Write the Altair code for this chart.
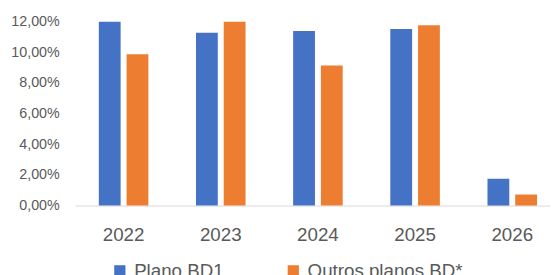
import altair as alt
import pandas as pd

years = ["2022", "2023", "2024", "2025", "2026"]
plano_bd1 = [12.0, 11.28, 11.39, 11.52, 1.75]
outros_bd = [9.88, 12.0, 9.14, 11.77, 0.72]
series_names = ["Plano BD1", "Outros planos BD*"]
colors = ["#4472C4", "#ED7D31"]
y_ticks = [0, 2, 4, 6, 8, 10, 12]

rows = []
for i, yr in enumerate(years):
    rows.append({"ano": yr, "serie": series_names[0], "valor": plano_bd1[i]})
    rows.append({"ano": yr, "serie": series_names[1], "valor": outros_bd[i]})
df = pd.DataFrame(rows)

font = "Liberation Sans"
grey = "#595959"

chart = alt.Chart(df).mark_bar().encode(
    x=alt.X("ano:N", sort=years,
            scale=alt.Scale(range=[0, 493], paddingInner=0.49, paddingOuter=0.245),
            axis=alt.Axis(title=None, labelAngle=0, labelFontSize=19, labelColor=grey,
                          domainColor="#D9D9D9", domainWidth=1, ticks=False,
                          labelPadding=20, labelFont=font)),
    xOffset=alt.XOffset("serie:N", sort=series_names,
                        scale=alt.Scale(paddingInner=0.214, paddingOuter=0)),
    y=alt.Y("valor:Q", scale=alt.Scale(domain=[0, 12], nice=False),
            axis=alt.Axis(title=None, values=y_ticks,
                          labelExpr="replace(format(datum.value,'.2f'),'.',',') + '%'",
                          grid=False, domain=False, ticks=False, labelFontSize=14.5,
                          labelColor=grey, labelPadding=16, labelFont=font)),
    color=alt.Color("serie:N", sort=series_names,
                    scale=alt.Scale(domain=series_names, range=colors),
                    legend=alt.Legend(title=None, orient="none", legendX=36, legendY=243,
                                      direction="horizontal", symbolType="square",
                                      symbolSize=130, labelFontSize=19, labelColor=grey,
                                      columnPadding=61, labelOffset=5, labelFont=font,
                                      symbolStrokeWidth=0)),
).properties(
    width=482, height=186.5,
    autosize=alt.AutoSizeParams(type="none"),
    padding={"left": 68, "top": 12, "right": 0, "bottom": 68.5},
).configure_view(stroke=None)

chart.save("out.html", embed_options={"renderer": "svg", "actions": False})
